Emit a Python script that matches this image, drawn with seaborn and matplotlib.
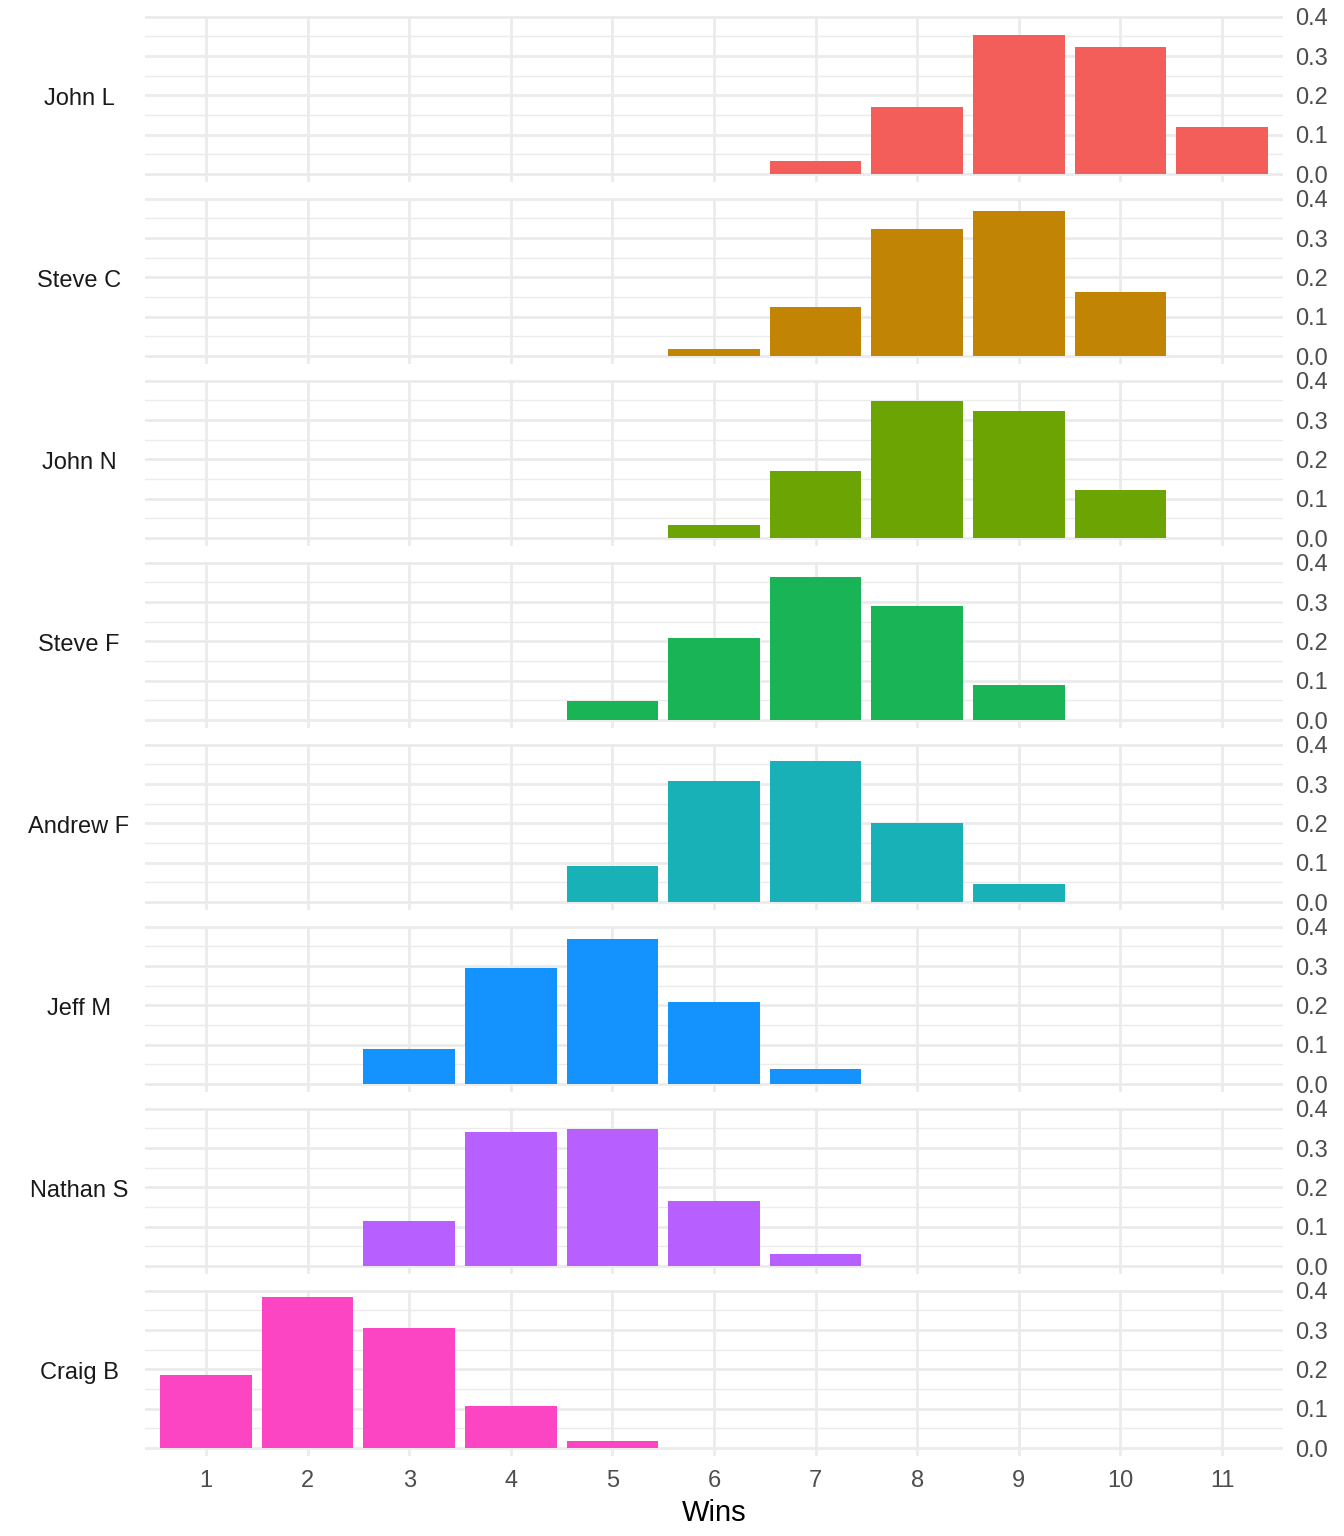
import matplotlib
matplotlib.use("Agg")
import matplotlib.pyplot as plt
from matplotlib.ticker import MultipleLocator, FormatStrFormatter
import seaborn as sns
import pandas as pd

# Share of simulated seasons ending with each win total, per manager
players = ["John L", "Steve C", "John N", "Steve F",
           "Andrew F", "Jeff M", "Nathan S", "Craig B"]

wins = {
    "John L":   [7, 8, 9, 10, 11],
    "Steve C":  [6, 7, 8, 9, 10],
    "John N":   [6, 7, 8, 9, 10],
    "Steve F":  [5, 6, 7, 8, 9],
    "Andrew F": [5, 6, 7, 8, 9],
    "Jeff M":   [3, 4, 5, 6, 7],
    "Nathan S": [3, 4, 5, 6, 7],
    "Craig B":  [1, 2, 3, 4, 5],
}

share = {
    "John L":   [0.033, 0.170, 0.354, 0.324, 0.119],
    "Steve C":  [0.018, 0.124, 0.324, 0.370, 0.162],
    "John N":   [0.033, 0.170, 0.349, 0.324, 0.122],
    "Steve F":  [0.048, 0.208, 0.365, 0.291, 0.089],
    "Andrew F": [0.091, 0.309, 0.359, 0.200, 0.046],
    "Jeff M":   [0.089, 0.294, 0.370, 0.210, 0.038],
    "Nathan S": [0.116, 0.342, 0.349, 0.165, 0.030],
    "Craig B":  [0.187, 0.385, 0.306, 0.106, 0.018],
}

colors = ["#F35E5A", "#C18405", "#6CA404", "#19B455",
          "#18B1B7", "#1493FF", "#B760FF", "#FC45C3"]

win_ticks = list(range(1, 12))

sns.set_style("white")
plt.rcParams["font.family"] = ["Liberation Sans", "DejaVu Sans"]

fig = plt.figure(figsize=(13.44, 15.36), dpi=100)
axes = fig.subplots(len(players), 1, sharex=True)
fig.subplots_adjust(left=145/1344, right=1283/1344,
                    top=1 - 16/1536, bottom=1 - 1456/1536,
                    hspace=16/166)

grid_col = "#EBEBEB"

for ax, name, col in zip(axes, players, colors):
    df = pd.DataFrame({"wins": wins[name], "share": share[name]})
    sns.barplot(data=df, x="wins", y="share", native_scale=True,
                width=0.9, color=col, saturation=1, linewidth=0,
                errorbar=None, ax=ax)

    ax.set_xlim(0.4, 11.6)
    ax.set_ylim(-0.02, 0.402)
    ax.set_xticks(win_ticks)
    ax.yaxis.set_major_locator(MultipleLocator(0.1))
    ax.yaxis.set_minor_locator(MultipleLocator(0.05))
    ax.yaxis.set_major_formatter(FormatStrFormatter("%.1f"))
    ax.set_axisbelow(True)
    ax.grid(which="major", axis="both", color=grid_col, lw=2.0)
    ax.grid(which="minor", axis="y", color=grid_col, lw=1.0)
    ax.yaxis.tick_right()
    ax.tick_params(axis="both", which="both", length=0,
                   labelsize=17, labelcolor="#4D4D4D")
    ax.tick_params(axis="y", pad=9)
    ax.tick_params(axis="x", pad=10)
    for s in ax.spines.values():
        s.set_visible(False)
    ax.set_ylabel("")
    ax.set_xlabel("")
    ax.text(-0.058, 0.5, name, transform=ax.transAxes, ha="center",
            va="center", fontsize=17, color="#1A1A1A")

axes[-1].set_xlabel("Wins", fontsize=21, color="black", labelpad=5)

fig.savefig("out.png", dpi=100)
